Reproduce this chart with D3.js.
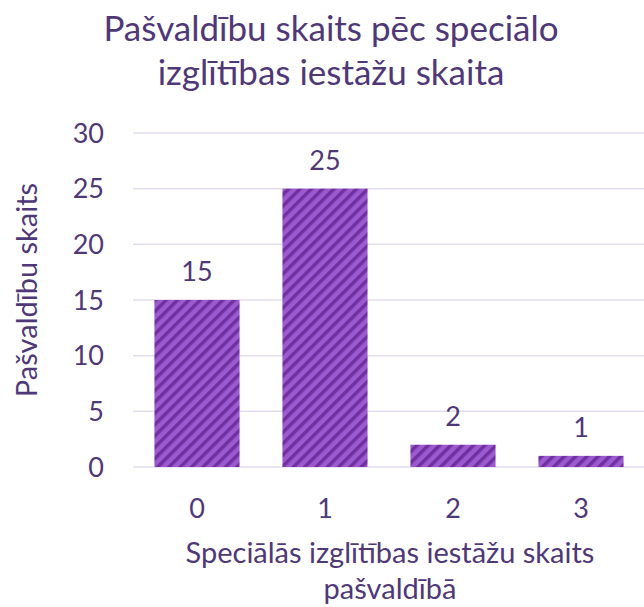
<!DOCTYPE html>
<html>
<head>
<meta charset="utf-8">
<script src="https://cdn.jsdelivr.net/npm/d3@7"></script>
<style>
  body { margin: 0; background: #fff; }
  svg text { font-family: Lato, "Open Sans", sans-serif; fill: #4f3878; }
</style>
</head>
<body>
<svg id="chart" width="644" height="607"></svg>
<script>
const categories = ['0', '1', '2', '3'];
const values = [15, 25, 2, 1];
const yTicks = [0, 5, 10, 15, 20, 25, 30];
const titleLines = ['Pašvaldību skaits pēc speciālo', 'izglītības iestāžu skaita'];
const xTitleLines = ['Speciālās izglītības iestāžu skaits', 'pašvaldībā'];
const yTitle = 'Pašvaldību skaits';

const svg = d3.select('#chart');

// hatch pattern
const defs = svg.append('defs');
const pat = defs.append('pattern')
  .attr('id', 'hatch')
  .attr('patternUnits', 'userSpaceOnUse')
  .attr('width', 8).attr('height', 8)
  .attr('patternTransform', 'rotate(45)');
pat.append('rect').attr('width', 8).attr('height', 8).attr('fill', '#9d5ad0');
pat.append('rect').attr('width', 3.5).attr('height', 8).attr('fill', '#7030a0');

const x = d3.scaleBand().domain(categories).range([133, 645]).paddingInner(0.335).paddingOuter(0.1675);
const y = d3.scaleLinear().domain([0, 30]).range([467, 133]);

// gridlines
svg.append('g').selectAll('line')
  .data(yTicks)
  .join('line')
  .attr('x1', 133).attr('x2', 644)
  .attr('y1', d => y(d)).attr('y2', d => y(d))
  .attr('stroke', '#e3dcec').attr('stroke-width', 1.5);

// y tick labels
svg.append('g').selectAll('text')
  .data(yTicks)
  .join('text')
  .attr('x', 104).attr('y', d => y(d))
  .attr('dy', '0.36em')
  .attr('text-anchor', 'end')
  .attr('font-size', 27)
  .text(d => d);

// bars
svg.append('g').selectAll('rect')
  .data(values)
  .join('rect')
  .attr('x', (d, i) => x(categories[i]))
  .attr('width', x.bandwidth())
  .attr('y', d => y(d))
  .attr('height', d => y(0) - y(d))
  .attr('fill', 'url(#hatch)');

// value labels
svg.append('g').selectAll('text')
  .data(values)
  .join('text')
  .attr('x', (d, i) => x(categories[i]) + x.bandwidth() / 2)
  .attr('y', d => y(d) - 19)
  .attr('text-anchor', 'middle')
  .attr('font-size', 27)
  .text(d => d);

// x tick labels
svg.append('g').selectAll('text')
  .data(categories)
  .join('text')
  .attr('x', d => x(d) + x.bandwidth() / 2)
  .attr('y', 518)
  .attr('text-anchor', 'middle')
  .attr('font-size', 27)
  .text(d => d);

// title
svg.append('text')
  .attr('text-anchor', 'middle')
  .attr('font-size', 35)
  .selectAll('tspan')
  .data(titleLines)
  .join('tspan')
  .attr('x', 331)
  .attr('y', (d, i) => 41 + i * 44)
  .text(d => d);

// x axis title
svg.append('text')
  .attr('text-anchor', 'middle')
  .attr('font-size', 29)
  .selectAll('tspan')
  .data(xTitleLines)
  .join('tspan')
  .attr('x', 390)
  .attr('y', (d, i) => 563 + i * 36)
  .text(d => d);

// y axis title
svg.append('text')
  .attr('transform', 'translate(37,290) rotate(-90)')
  .attr('text-anchor', 'middle')
  .attr('font-size', 29)
  .text(yTitle);
</script>
</body>
</html>
